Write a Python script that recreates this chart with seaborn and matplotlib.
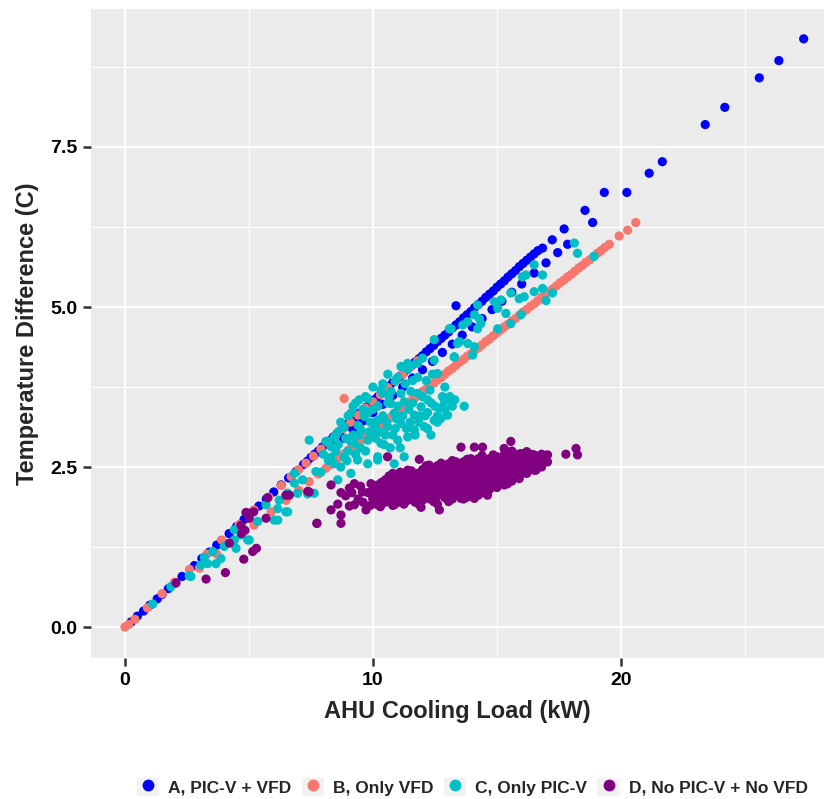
import numpy as np
import pandas as pd
import seaborn as sns
import matplotlib.pyplot as plt
from matplotlib.patches import Rectangle
from matplotlib.lines import Line2D
from matplotlib.legend_handler import HandlerTuple

# ---------------- data ----------------
groups = ["A, PIC-V + VFD", "B, Only VFD", "C, Only PIC-V", "D, No PIC-V + No VFD"]
colors = ["#0000FF", "#F8766D", "#00BFC4", "#800080"]

a_load = [0.25, 0.5, 0.75, 1.0, 1.3, 1.5, 1.75, 2.0, 2.3, 2.8, 3.1, 3.4, 3.7, 3.9, 4.2, 4.5, 4.8, 5.1, 5.4,
          5.7, 6.0, 6.3, 6.6, 6.9, 7.2, 7.5, 7.8, 8.1, 8.4, 8.7, 9.0, 9.3, 9.6, 9.9, 10.2, 10.5, 10.8, 11.1,
          11.4, 11.7, 12.0, 12.3, 12.6, 12.9, 13.2, 13.5, 13.8, 14.1, 14.4, 14.7, 15.0, 15.3, 15.6, 15.9,
          16.2, 16.5, 16.84,
          7.35, 7.65, 7.95, 8.25, 8.55, 8.85, 9.15, 9.45, 9.75, 10.05, 10.35, 10.65, 10.95, 11.25, 11.55,
          11.85, 12.15, 12.45, 12.75, 13.05, 13.35, 13.65, 13.95, 14.25, 14.55, 14.85, 15.15, 15.45, 15.75,
          16.05, 16.35, 16.65,
          8.4, 8.8, 9.2, 9.6, 10.0, 10.4, 10.8, 11.2, 11.6, 12.0, 12.4, 12.8, 13.2, 13.6, 14.0, 14.4, 14.8,
          15.2, 15.6, 16.0, 16.5, 16.98, 17.45, 17.85,
          13.35, 17.23, 17.71, 18.55, 18.86, 19.33, 20.24, 21.14, 21.67, 23.40, 24.19, 25.58, 26.37, 27.37]
a_dt = [0.08, 0.17, 0.25, 0.34, 0.44, 0.51, 0.6, 0.68, 0.79, 0.96, 1.07, 1.17, 1.28, 1.35, 1.46, 1.57, 1.68,
        1.79, 1.89, 2.0, 2.11, 2.22, 2.33, 2.43, 2.54, 2.65, 2.75, 2.86, 2.97, 3.07, 3.18, 3.28, 3.39, 3.5,
        3.6, 3.71, 3.82, 3.92, 4.03, 4.14, 4.24, 4.35, 4.46, 4.56, 4.67, 4.77, 4.88, 4.99, 5.09, 5.2, 5.31,
        5.41, 5.52, 5.63, 5.73, 5.83, 5.92,
        2.59, 2.70, 2.81, 2.91, 3.02, 3.12, 3.23, 3.34, 3.44, 3.55, 3.66, 3.76, 3.87, 3.98, 4.08, 4.19,
        4.30, 4.40, 4.51, 4.61, 4.72, 4.83, 4.93, 5.04, 5.15, 5.25, 5.36, 5.47, 5.57, 5.68, 5.78, 5.88,
        2.82, 2.95, 3.08, 3.22, 3.35, 3.48, 3.62, 3.75, 3.89, 4.02, 4.15, 4.29, 4.42, 4.56, 4.69, 4.82, 4.96,
        5.09, 5.23, 5.36, 5.53, 5.69, 5.85, 5.98,
        5.02, 6.05, 6.22, 6.51, 6.32, 6.79, 6.79, 7.09, 7.27, 7.85, 8.12, 8.58, 8.85, 9.19]

b_load = [0.0, 0.15, 0.4, 0.9, 1.5, 2.0, 2.6, 3.3, 3.9, 4.6, 5.2, 5.8, 6.3, 6.7, 7.0, 7.3, 7.6, 7.9, 8.2,
          8.5, 8.8, 9.1, 9.4, 9.7, 10.0, 10.3, 10.6, 10.9, 11.2, 11.5, 11.8, 8.84,
          3.0, 3.7, 4.4, 5.2, 5.9, 6.5, 7.0, 7.43, 7.8, 8.1, 8.4, 8.7, 9.0, 9.3, 9.6, 9.9, 10.2, 10.5, 10.8,
          11.1, 11.4, 11.7, 12.0, 12.3, 12.6, 12.9, 13.2, 13.5, 13.8, 14.1, 14.4, 14.7, 15.0, 15.3, 15.6,
          15.9, 16.2, 16.5, 16.8, 17.1, 17.4, 17.7, 18.0, 18.3, 18.6, 18.9, 19.2, 19.53, 19.93, 20.27, 20.6,
          8.25, 8.55, 8.85, 9.15, 9.45, 9.75, 10.05, 10.35, 10.65, 10.95, 11.25, 11.55, 11.85, 12.15, 12.45,
          12.75, 13.05, 13.35, 13.65, 13.95, 14.25, 14.55, 14.85, 15.15, 15.45, 15.75, 16.05, 16.35, 16.65,
          16.95, 17.25, 17.55, 17.85, 18.15, 18.45, 18.75, 19.05, 19.35]
b_dt = [0.0, 0.04, 0.12, 0.3, 0.52, 0.7, 0.9, 1.14, 1.36, 1.6, 1.83, 2.03, 2.21, 2.35, 2.46, 2.56, 2.67,
        2.78, 2.88, 2.99, 3.1, 3.2, 3.31, 3.42, 3.52, 3.63, 3.74, 3.84, 3.95, 4.06, 4.16, 3.57,
        0.92, 1.14, 1.35, 1.59, 1.8, 1.98, 2.14, 2.27, 2.39, 2.48, 2.57, 2.66, 2.76, 2.85, 2.94, 3.03, 3.12,
        3.21, 3.31, 3.4, 3.49, 3.58, 3.68, 3.77, 3.86, 3.95, 4.04, 4.14, 4.23, 4.32, 4.41, 4.5, 4.6, 4.69,
        4.78, 4.87, 4.96, 5.05, 5.15, 5.24, 5.33, 5.42, 5.51, 5.61, 5.7, 5.79, 5.88, 5.98, 6.11, 6.2, 6.32,
        2.53, 2.62, 2.71, 2.80, 2.89, 2.98, 3.08, 3.17, 3.26, 3.35, 3.44, 3.54, 3.63, 3.72, 3.81, 3.90,
        4.00, 4.09, 4.18, 4.27, 4.36, 4.46, 4.55, 4.64, 4.73, 4.82, 4.92, 5.01, 5.10, 5.19, 5.28, 5.38,
        5.47, 5.56, 5.65, 5.74, 5.84, 5.93]

c_load = [1.12, 1.85, 2.59, 2.66, 3.06, 3.2, 3.33, 3.54, 3.67, 3.87, 4.0, 4.41, 4.41, 4.48, 4.68, 4.95, 5.01,
          5.35, 5.69, 6.02, 6.16, 6.16, 6.22, 6.49, 6.56, 6.56, 6.83, 6.83, 6.96, 7.16, 7.37, 7.43, 7.63,
          7.7, 7.9,
          8.44, 8.58, 9.11, 8.31, 8.44, 8.84, 8.84, 9.11, 9.25, 9.38, 9.52, 9.65, 9.79, 9.79, 9.79, 10.05,
          10.19, 10.19, 10.19, 10.32, 10.32, 10.59, 10.73, 10.73, 10.86, 10.86, 11.0, 11.13, 11.13, 11.13,
          11.26, 11.26, 11.4, 11.4, 11.53, 11.53, 11.67, 11.67, 11.8, 11.8, 11.94, 12.07, 12.2, 12.34, 12.47,
          12.47, 12.6, 12.68, 12.74, 12.88, 13.01, 13.01, 13.28, 13.41, 13.68, 13.82, 14.09,
          8.0, 8.2, 8.6, 8.9, 9.0, 9.2, 9.4, 9.5, 9.6, 9.9, 10.0, 10.1, 10.4, 10.5, 10.6, 10.7, 10.9, 11.0,
          11.2, 11.5, 11.6, 11.9, 12.0, 12.2, 12.3, 12.5, 12.9, 13.1, 13.3, 12.2, 12.6, 9.3, 9.0, 8.7, 10.4,
          10.0, 10.6, 8.1, 9.7, 11.8,
          8.3, 8.5, 8.7, 8.95, 9.1, 9.3, 9.45, 9.7, 9.85, 10.1, 10.3, 10.45, 10.55, 10.8, 10.95, 11.1, 11.35,
          11.45, 11.7, 11.85, 12.1, 12.35, 12.6, 12.8, 13.2, 12.9, 11.3, 11.0, 10.2, 9.8, 9.45, 9.2, 8.6, 8.2,
          10.65, 11.6, 12.15, 12.4,
          10.4, 10.9, 11.4, 12.0, 12.47, 13.08, 13.15, 13.48, 13.62, 13.82, 14.09, 14.22, 14.02, 13.28,
          14.22, 14.29, 14.35, 14.9, 15.03, 15.03, 15.16, 15.36, 15.56, 15.56, 15.9, 15.97, 16.03, 16.1,
          16.17, 16.5, 16.5, 16.84, 16.84, 16.98, 17.24, 18.12, 18.25, 18.92]
c_dt = [0.36, 0.63, 0.8, 0.79, 0.97, 1.09, 0.99, 1.18, 0.99, 1.07, 1.26, 1.36, 1.52, 1.23, 1.44, 1.36, 1.36,
        1.65, 1.91, 1.67, 1.85, 1.67, 1.98, 1.8, 2.09, 1.8, 2.25, 2.4, 2.09, 2.3, 2.08, 2.92, 2.09, 2.43,
        2.42,
        2.55, 2.3, 2.4, 2.82, 2.97, 3.13, 2.66, 3.34, 2.87, 2.61, 3.08, 3.29, 3.57, 2.92, 2.55, 3.08, 3.23,
        2.66, 2.61, 3.7, 2.87, 3.13, 3.49, 3.68, 3.34, 2.55, 2.92, 3.18, 3.65, 4.07, 3.52, 2.66, 2.97,
        4.12, 3.68, 4.09, 3.31, 3.08, 3.65, 4.12, 3.44, 3.13, 3.55, 3.0, 3.23, 4.17, 3.96, 3.42, 3.26,
        3.52, 3.57, 3.31, 4.22, 4.43, 3.45, 4.43, 4.38,
        2.7, 2.6, 2.85, 2.95, 2.75, 3.0, 3.15, 2.8, 3.4, 3.2, 3.4, 2.95, 3.3, 3.0, 3.5, 2.8, 3.1, 3.45,
        3.3, 3.2, 3.5, 3.3, 3.6, 3.35, 3.7, 3.45, 3.4, 3.6, 3.55, 3.1, 3.2, 3.5, 3.3, 3.2, 3.8, 3.75, 3.95,
        2.9, 3.6, 3.9,
        2.65, 2.75, 2.5, 2.6, 2.9, 2.7, 3.0, 2.75, 3.05, 3.15, 3.05, 2.85, 3.2, 3.0, 3.25, 2.8, 3.1,
        3.4, 3.0, 3.2, 3.3, 3.5, 3.3, 3.6, 3.45, 3.75, 3.8, 3.9, 3.45, 3.35, 3.55, 3.45, 3.05, 2.9,
        3.6, 3.85, 3.85, 3.95,
        3.65, 3.85, 4.03, 4.2, 4.49, 4.66, 4.66, 4.46, 4.72, 4.77, 4.88, 5.03, 4.25, 4.22, 4.66, 4.82,
        4.74, 5.08, 4.98, 4.66, 5.11, 4.9, 5.22, 4.74, 5.13, 4.88, 5.47, 5.16, 5.5, 5.66, 5.24, 5.5, 5.29,
        5.1, 5.22, 6.0, 5.84, 5.79]

d_load = [2.06, 3.27, 4.05, 4.21, 4.79, 5.15, 5.3, 4.68, 4.84, 4.7, 4.88, 5.01, 5.19, 5.75, 5.69, 6.49,
          6.63, 7.37, 7.74, 7.43,
          18.19, 18.25, 17.78, 17.04, 17.04, 16.5, 16.57, 15.97, 15.56, 15.29, 14.42, 14.09, 13.55, 13.95,
          15.9, 15.43, 14.62, 14.09, 13.55, 12.68, 11.94, 10.86, 10.19, 9.72, 9.25, 9.05, 8.58, 8.31, 8.71,
          8.71, 7.74, 8.31, 8.71, 9.05, 9.25, 9.58, 9.92, 10.46, 9.99, 10.59, 11.87, 12.27, 11.8, 12.61,
          13.55, 11.0, 11.4, 11.53, 11.0, 10.73,
          9.4, 9.6, 9.8, 10.0, 9.9, 9.5, 10.3, 8.9, 9.15,
          10.2, 10.2, 10.2, 10.5, 10.5, 10.5, 10.5, 10.8, 10.8, 10.8, 10.8, 10.8, 11.1, 11.1, 11.1, 11.1,
          11.1, 11.4, 11.4, 11.4, 11.4, 11.4, 11.7, 11.7, 11.7, 11.7, 11.7, 12.0, 12.0, 12.0, 12.0, 12.0,
          12.3, 12.3, 12.3, 12.3, 12.3, 12.6, 12.6, 12.6, 12.6, 12.6, 12.6, 12.9, 12.9, 12.9, 12.9, 12.9,
          13.2, 13.2, 13.2, 13.2, 13.2, 13.2, 13.5, 13.5, 13.5, 13.5, 13.5, 13.8, 13.8, 13.8, 13.8, 13.8,
          13.8, 14.1, 14.1, 14.1, 14.1, 14.1, 14.4, 14.4, 14.4, 14.4, 14.4, 14.4, 14.7, 14.7, 14.7, 14.7,
          14.7, 15.0, 15.0, 15.0, 15.0, 15.0, 15.3, 15.3, 15.3, 15.3, 15.3, 15.6, 15.6, 15.6, 15.6, 15.6,
          15.9, 15.9, 15.9, 15.9, 16.2, 16.2, 16.2, 16.2, 16.5, 16.5, 16.5, 16.8, 16.8, 16.8,
          10.35, 10.35, 10.35, 10.65, 10.65, 10.65, 10.65, 10.95, 10.95, 10.95, 10.95, 11.25, 11.25, 11.25,
          11.25, 11.25, 11.55, 11.55, 11.55, 11.55, 11.55, 11.85, 11.85, 11.85, 11.85, 11.85, 12.15, 12.15,
          12.15, 12.15, 12.15, 12.45, 12.45, 12.45, 12.45, 12.45, 12.75, 12.75, 12.75, 12.75, 12.75, 13.05,
          13.05, 13.05, 13.05, 13.05, 13.05, 13.35, 13.35, 13.35, 13.35, 13.35, 13.65, 13.65, 13.65, 13.65,
          13.65, 13.65, 13.95, 13.95, 13.95, 13.95, 13.95, 14.25, 14.25, 14.25, 14.25, 14.25, 14.25, 14.55,
          14.55, 14.55, 14.55, 14.55, 14.85, 14.85, 14.85, 14.85, 14.85, 15.15, 15.15, 15.15, 15.15, 15.45,
          15.45, 15.45, 15.45, 15.75, 15.75, 15.75, 15.75, 16.05, 16.05, 16.05, 16.35, 16.35, 16.35, 16.65,
          16.65]
d_dt = [0.69, 0.75, 0.85, 1.31, 1.06, 1.18, 1.23, 1.59, 1.51, 1.46, 1.79, 1.7, 1.8, 2.02, 1.7, 2.06, 2.06,
        2.12, 1.62, 2.11,
        2.79, 2.69, 2.7, 2.69, 2.58, 2.69, 2.45, 2.71, 2.9, 2.79, 2.81, 2.81, 2.81, 2.63, 2.32, 2.24, 2.06,
        2.01, 2.01, 1.83, 1.87, 1.91, 1.91, 1.83, 1.91, 1.89, 1.92, 1.83, 1.75, 1.62, 1.62, 2.22, 2.1,
        2.17, 2.24, 2.11, 2.24, 2.24, 2.01, 2.66, 2.62, 2.53, 2.4, 2.43, 2.55, 2.24, 2.27, 2.09, 2.01,
        2.14,
        2.0, 1.95, 2.1, 2.15, 1.9, 2.2, 1.88, 2.05, 2.1,
        1.98, 2.1, 2.22, 1.95, 2.08, 2.2, 2.3, 1.9, 2.02, 2.15, 2.28, 2.4, 1.95, 2.06, 2.18, 2.3, 2.42,
        1.98, 2.1, 2.2, 2.32, 2.45, 1.95, 2.05, 2.16, 2.27, 2.38, 1.98, 2.1, 2.22, 2.34, 2.46, 2.0, 2.12,
        2.24, 2.36, 2.5, 1.92, 2.05, 2.17, 2.29, 2.41, 2.52, 2.02, 2.14, 2.26, 2.38, 2.5, 2.0, 2.12, 2.25,
        2.37, 2.49, 2.6, 2.05, 2.17, 2.29, 2.41, 2.53, 2.03, 2.15, 2.28, 2.4, 2.52, 2.62, 2.08, 2.2, 2.32,
        2.44, 2.56, 2.1, 2.22, 2.34, 2.46, 2.58, 2.68, 2.15, 2.27, 2.39, 2.51, 2.63, 2.18, 2.3, 2.42, 2.54,
        2.66, 2.22, 2.34, 2.46, 2.58, 2.7, 2.28, 2.4, 2.52, 2.64, 2.75, 2.35, 2.47, 2.59, 2.7, 2.4, 2.52,
        2.64, 2.74, 2.45, 2.57, 2.68, 2.5, 2.62, 2.7,
        2.04, 2.16, 2.26, 1.98, 2.12, 2.24, 2.36, 2.0, 2.12, 2.24, 2.36, 1.92, 2.02, 2.14, 2.26, 2.38, 2.0,
        2.11, 2.22, 2.34, 2.44, 1.92, 2.04, 2.16, 2.28, 2.4, 2.04, 2.16, 2.28, 2.4, 2.52, 1.96, 2.08, 2.2,
        2.32, 2.44, 2.08, 2.2, 2.32, 2.44, 2.56, 1.96, 2.06, 2.18, 2.31, 2.43, 2.55, 2.1, 2.22, 2.34, 2.46,
        2.58, 2.0, 2.11, 2.23, 2.35, 2.47, 2.58, 2.12, 2.25, 2.37, 2.49, 2.6, 2.06, 2.15, 2.27, 2.39, 2.51,
        2.63, 2.12, 2.22, 2.34, 2.46, 2.58, 2.2, 2.33, 2.45, 2.57, 2.69, 2.25, 2.37, 2.49, 2.61, 2.3, 2.42,
        2.55, 2.67, 2.35, 2.46, 2.58, 2.7, 2.42, 2.55, 2.66, 2.46, 2.6, 2.7, 2.55, 2.65]

# ---------------- build table ----------------
frames = []
for g, xs, ys in zip(groups, [a_load, b_load, c_load, d_load], [a_dt, b_dt, c_dt, d_dt]):
    frames.append(pd.DataFrame({"load": xs, "dt": ys, "group": g}))
df = pd.concat(frames, ignore_index=True)

# ---------------- style ----------------
sns.set_style("darkgrid", {"axes.facecolor": "#EBEBEB", "grid.color": "white",
                           "xtick.bottom": True, "ytick.left": True})
plt.rcParams["font.family"] = ["Liberation Sans", "DejaVu Sans"]

fig, ax = plt.subplots(figsize=(8.27, 7.99), dpi=100)
fig.subplots_adjust(left=91 / 827, right=824 / 827, top=1 - 9 / 799, bottom=1 - 658 / 799)

sns.scatterplot(data=df, x="load", y="dt", hue="group", hue_order=groups,
                palette=dict(zip(groups, colors)), s=44, linewidth=0, alpha=1,
                ax=ax, legend=False, zorder=3)

ax.set_xlim(-1.37, 28.19)
ax.set_ylim(-0.484, 9.656)
ax.set_xticks([0, 10, 20])
ax.set_xticks([5, 15, 25], minor=True)
ax.set_yticks([0, 2.5, 5.0, 7.5])
ax.set_yticks([1.25, 3.75, 6.25, 8.75], minor=True)
ax.set_yticklabels(["0.0", "2.5", "5.0", "7.5"])
ax.grid(which="major", color="white", linewidth=1.6)
ax.grid(which="minor", color="white", linewidth=0.8)
ax.set_axisbelow(True)
for sp in ax.spines.values():
    sp.set_visible(False)

ax.tick_params(axis="both", which="major", bottom=True, left=True, length=6, width=1.8,
               color="#333333", labelsize=14, labelcolor="black", pad=4)
ax.tick_params(axis="both", which="minor", length=0)
for lab in ax.get_xticklabels() + ax.get_yticklabels():
    lab.set_fontweight("bold")

ax.set_xlabel("AHU Cooling Load (kW)", fontsize=17, fontweight="bold", labelpad=8)
ax.set_ylabel("Temperature Difference (C)", fontsize=17, fontweight="bold", labelpad=8)

handles = []
for c in colors:
    bg = Rectangle((0, 0), 1, 1, facecolor="#F2F2F2", edgecolor="none")
    dot = Line2D([], [], marker="o", linestyle="", color=c, markersize=7.5)
    handles.append((bg, dot))
fig.legend(handles, groups, handler_map={tuple: HandlerTuple(ndivide=1, pad=0)},
           ncol=4, loc="center", bbox_to_anchor=(0.571, 1 - 787 / 799), frameon=False,
           prop={"weight": "bold", "size": 12.5}, handlelength=1.3, handleheight=1.3,
           columnspacing=0.6, handletextpad=0.5)

fig.savefig("out.png", dpi=100, facecolor="white")
